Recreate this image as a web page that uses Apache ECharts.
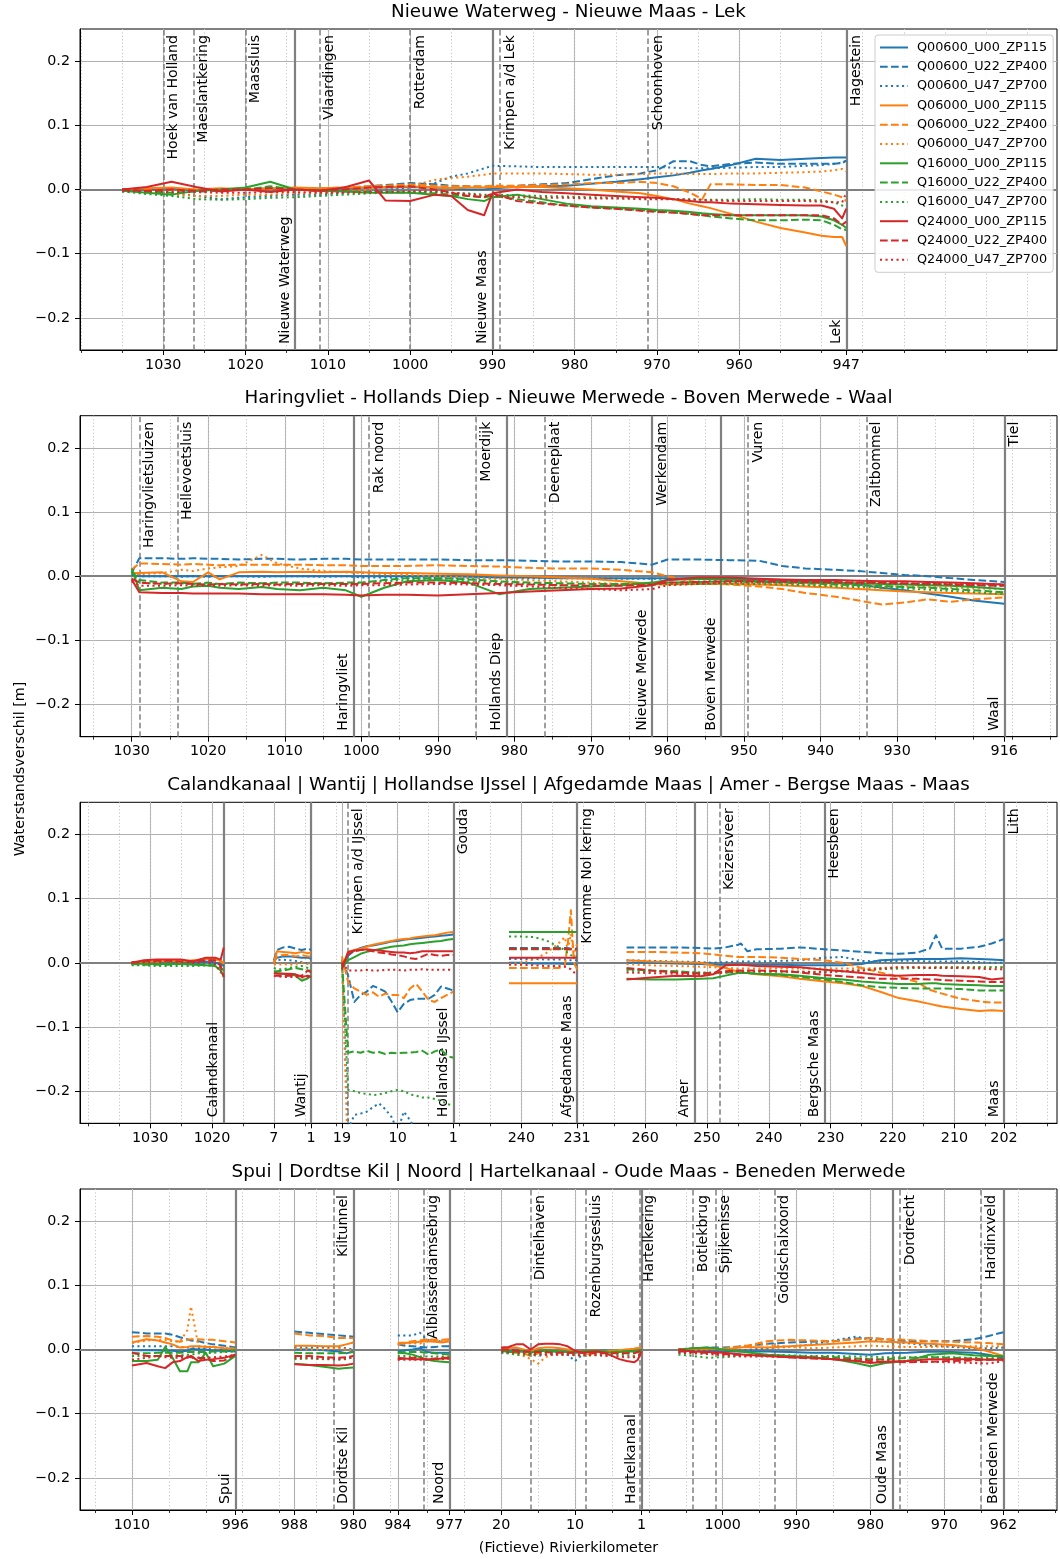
<!DOCTYPE html>
<html>
<head>
<meta charset="utf-8">
<title>Waterstandsverschil</title>
<script src="https://cdn.jsdelivr.net/npm/echarts@6.0.0/dist/echarts.min.js"></script>
<style>
html, body { margin: 0; padding: 0; background: #ffffff; }
#chart { width: 1060px; height: 1559px; }
</style>
</head>
<body>
<div id="chart"></div>
<script>
// ---------------- scenario names (legend order) ----------------
const SERIES = ['Q00600_U00_ZP115','Q00600_U22_ZP400','Q00600_U47_ZP700',
                'Q06000_U00_ZP115','Q06000_U22_ZP400','Q06000_U47_ZP700',
                'Q16000_U00_ZP115','Q16000_U22_ZP400','Q16000_U47_ZP700',
                'Q24000_U00_ZP115','Q24000_U22_ZP400','Q24000_U47_ZP700'];
const Y_TICKS = [-0.2, -0.1, 0, 0.1, 0.2];

// ================= Panel 1: Nieuwe Waterweg - Nieuwe Maas - Lek =================
const P1_KM = [1035,1032,1029,1026,1023,1020,1017,1014,1011,1008,1005,1003,1000,997,995,993,991,990,987,984,981,978,975,972,970,968,966,964.5,963.5,961,958,955,952,950,948.5,947.5,947];
const P1_VALUES = [
 [0,0,0.002,-0.002,0,0,0.002,0,0,0.002,0.003,0.003,0.004,0.003,0.002,0,0,0.002,0.004,0.005,0.006,0.009,0.012,0.016,0.019,0.022,0.026,0.03,0.032,0.038,0.048,0.046,0.048,0.049,0.05,0.05,0.05],
 [0,-0.002,0,-0.003,-0.002,0,-0.002,0,0,0.003,0.005,0.007,0.01,0.008,0.006,0.005,0.004,0.003,0.006,0.008,0.01,0.016,0.022,0.025,0.03,0.044,0.044,0.038,0.036,0.04,0.042,0.04,0.04,0.04,0.04,0.041,0.045],
 [-0.003,-0.005,-0.005,-0.01,-0.015,-0.012,-0.01,-0.008,-0.008,-0.005,-0.002,0,0.003,0.01,0.02,0.025,0.033,0.037,0.036,0.035,0.035,0.035,0.035,0.035,0.035,0.034,0.033,0.033,0.033,0.034,0.035,0.035,0.037,0.038,0.04,0.042,0.045],
 [0,0.002,0.003,0,0.002,0,0.002,0.003,0.002,0.003,0.003,0.004,0.005,0.003,0.002,0.003,0.003,0.004,0.004,0.004,0.002,0,-0.003,-0.006,-0.01,-0.015,-0.022,-0.026,-0.029,-0.038,-0.05,-0.06,-0.067,-0.072,-0.074,-0.074,-0.088],
 [0,0,0,-0.003,0,0.002,0,0.002,0.002,0.003,0.005,0.006,0.008,0.006,0.005,0.005,0.005,0.006,0.006,0.007,0.008,0.01,0.01,0.012,0.01,0.005,-0.005,-0.015,0.008,0.008,0.007,0.007,0.003,-0.003,-0.008,-0.012,-0.018],
 [-0.002,-0.005,-0.008,-0.01,-0.01,-0.008,-0.008,-0.006,-0.006,-0.003,0,0.002,0.005,0.015,0.018,0.02,0.023,0.025,0.025,0.025,0.024,0.023,0.023,0.024,0.025,0.025,0.024,0.024,0.024,0.025,0.025,0.026,0.027,0.028,0.03,0.032,0.028],
 [-0.002,-0.005,-0.008,-0.002,0,0.003,0.012,0,-0.002,-0.003,-0.005,-0.005,-0.005,-0.008,-0.01,-0.015,-0.018,-0.012,-0.008,-0.015,-0.022,-0.026,-0.028,-0.03,-0.032,-0.033,-0.035,-0.037,-0.038,-0.04,-0.04,-0.04,-0.04,-0.042,-0.048,-0.055,-0.06],
 [-0.002,-0.003,-0.005,-0.003,-0.002,0,0.005,0,-0.002,-0.003,-0.004,-0.004,-0.005,-0.006,-0.008,-0.01,-0.012,-0.01,-0.015,-0.02,-0.025,-0.028,-0.03,-0.032,-0.034,-0.036,-0.038,-0.04,-0.042,-0.045,-0.048,-0.048,-0.047,-0.048,-0.055,-0.062,-0.063],
 [-0.003,-0.007,-0.01,-0.015,-0.016,-0.015,-0.013,-0.012,-0.01,-0.008,-0.006,-0.005,-0.004,-0.004,-0.005,-0.006,-0.008,-0.008,-0.009,-0.01,-0.011,-0.012,-0.013,-0.013,-0.014,-0.015,-0.015,-0.016,-0.016,-0.016,-0.015,-0.016,-0.016,-0.017,-0.02,-0.025,-0.027],
 [0,0.004,0.012,0.004,-0.003,0,-0.004,0,-0.002,0.003,0.014,-0.017,-0.018,-0.008,-0.01,-0.032,-0.04,-0.006,0,-0.004,-0.006,-0.008,-0.01,-0.012,-0.013,-0.015,-0.018,-0.02,-0.02,-0.022,-0.023,-0.024,-0.025,-0.025,-0.03,-0.045,-0.03],
 [0,-0.002,0,-0.002,0,0,0.002,0,-0.002,0,0.003,0.004,0.005,0,-0.005,-0.01,-0.012,-0.006,-0.018,-0.022,-0.025,-0.028,-0.03,-0.033,-0.035,-0.036,-0.038,-0.04,-0.04,-0.04,-0.04,-0.04,-0.04,-0.04,-0.045,-0.055,-0.05],
 [-0.002,-0.003,-0.004,-0.004,-0.005,-0.005,-0.004,-0.004,-0.005,-0.005,-0.004,-0.004,-0.003,-0.003,-0.005,-0.007,-0.01,-0.01,-0.012,-0.013,-0.013,-0.014,-0.014,-0.015,-0.015,-0.015,-0.016,-0.016,-0.017,-0.018,-0.018,-0.018,-0.018,-0.019,-0.02,-0.02,-0.005]
];
const P1_TICKS = [[0,1030],[0,1020],[0,1010],[0,1000],[0,990],[0,980],[0,970],[0,960],[0,947]];
const P1_STATIONS = [['Hoek van Holland',0,1030,true],['Maeslantkering',0,1026.3,true],['Maassluis',0,1020,true],['Vlaardingen',0,1011,true],['Rotterdam',0,1000,true],['Krimpen a/d Lek',0,989.1,true],['Schoonhoven',0,971.1,true],['Hagestein',0,947,false]];
const P1_SECTIONS = [['Nieuwe Waterweg',0,1014],['Nieuwe Maas',0,990],['Lek',0,947]];

// ================= Panel 2: Haringvliet - Hollands Diep - ... - Waal =================
const P2_KM = [1030,1029,1026,1023.5,1022,1020,1018.5,1016,1013,1011,1008,1005,1002,1000,997,994,990,986,982,978,974,970,966,962,960,956,952,948,945,942,938,935,932,929,926,923,920,916];
const P2_VALUES = [
 [0.002,0,0,0,0,0,0,0,0,0,0,0,0,0,0,0,0,-0.001,-0.002,-0.002,-0.003,-0.003,-0.003,-0.003,-0.003,-0.003,-0.004,-0.005,-0.006,-0.008,-0.01,-0.013,-0.018,-0.022,-0.027,-0.032,-0.038,-0.043],
 [0.005,0.028,0.028,0.027,0.028,0.027,0.027,0.026,0.027,0.027,0.026,0.027,0.027,0.026,0.026,0.026,0.026,0.025,0.025,0.024,0.023,0.023,0.022,0.018,0.026,0.026,0.025,0.024,0.016,0.012,0.01,0.008,0.005,0.002,0,-0.003,-0.006,-0.009],
 [0.003,0,0,-0.001,0,-0.001,0,0,-0.001,0,0,-0.001,0,-0.002,-0.002,-0.002,-0.003,-0.003,-0.003,-0.003,-0.003,-0.003,-0.004,-0.004,-0.004,-0.005,-0.006,-0.007,-0.008,-0.008,-0.009,-0.01,-0.011,-0.011,-0.012,-0.013,-0.014,-0.015],
 [0.005,0.005,0.006,-0.008,-0.009,0.006,-0.005,0.006,0.007,0.006,0.007,0.006,0.007,0.006,0.005,0.005,0.004,0.003,0.001,0,-0.002,-0.004,-0.008,-0.012,-0.013,-0.012,-0.012,-0.013,-0.014,-0.016,-0.018,-0.02,-0.022,-0.024,-0.025,-0.026,-0.027,-0.028],
 [0.01,0.02,0.019,0.018,0.019,0.018,0.017,0.018,0.018,0.018,0.018,0.017,0.017,0.016,0.016,0.016,0.017,0.016,0.015,0.013,0.012,0.012,0.01,0.006,0,-0.01,-0.013,-0.016,-0.02,-0.026,-0.032,-0.038,-0.044,-0.041,-0.036,-0.04,-0.036,-0.033],
 [0.005,0.003,0.005,0.01,0.008,0.012,0.014,0.016,0.033,0.02,0.012,0.008,0.006,0.005,0.003,0.002,0,-0.002,-0.004,-0.006,-0.008,-0.01,-0.012,-0.012,-0.012,-0.012,-0.012,-0.013,-0.013,-0.014,-0.014,-0.015,-0.016,-0.016,-0.017,-0.018,-0.019,-0.02],
 [0.012,-0.022,-0.018,-0.02,-0.016,-0.015,-0.018,-0.02,-0.017,-0.02,-0.022,-0.018,-0.022,-0.032,-0.018,-0.008,-0.006,-0.01,-0.028,-0.02,-0.018,-0.016,-0.014,-0.01,-0.006,-0.004,-0.005,-0.008,-0.009,-0.01,-0.011,-0.011,-0.012,-0.013,-0.014,-0.015,-0.017,-0.02],
 [0.008,-0.006,-0.01,-0.01,-0.012,-0.01,-0.012,-0.01,-0.011,-0.01,-0.01,-0.011,-0.01,-0.01,-0.006,-0.003,-0.003,-0.005,-0.008,-0.01,-0.011,-0.012,-0.012,-0.011,-0.01,-0.009,-0.008,-0.009,-0.01,-0.011,-0.013,-0.014,-0.015,-0.017,-0.018,-0.02,-0.022,-0.025],
 [0.006,-0.01,-0.012,-0.011,-0.012,-0.013,-0.012,-0.012,-0.011,-0.012,-0.012,-0.011,-0.012,-0.01,-0.008,-0.006,-0.006,-0.008,-0.01,-0.012,-0.014,-0.015,-0.014,-0.013,-0.012,-0.012,-0.012,-0.012,-0.013,-0.014,-0.016,-0.017,-0.018,-0.019,-0.021,-0.023,-0.025,-0.028],
 [-0.005,-0.025,-0.026,-0.026,-0.027,-0.027,-0.027,-0.027,-0.028,-0.028,-0.028,-0.028,-0.029,-0.03,-0.029,-0.029,-0.03,-0.028,-0.026,-0.024,-0.022,-0.02,-0.019,-0.014,-0.006,-0.002,-0.002,-0.004,-0.005,-0.006,-0.006,-0.007,-0.008,-0.008,-0.009,-0.01,-0.011,-0.013],
 [-0.004,-0.01,-0.012,-0.011,-0.012,-0.013,-0.012,-0.013,-0.012,-0.013,-0.012,-0.012,-0.012,-0.012,-0.011,-0.01,-0.01,-0.011,-0.012,-0.013,-0.014,-0.015,-0.015,-0.013,-0.01,-0.009,-0.008,-0.008,-0.008,-0.009,-0.009,-0.01,-0.01,-0.011,-0.012,-0.013,-0.014,-0.015],
 [-0.008,-0.015,-0.015,-0.014,-0.015,-0.014,-0.015,-0.014,-0.015,-0.014,-0.015,-0.014,-0.015,-0.014,-0.014,-0.013,-0.012,-0.013,-0.014,-0.016,-0.018,-0.02,-0.022,-0.02,-0.014,-0.012,-0.01,-0.01,-0.01,-0.01,-0.01,-0.011,-0.011,-0.012,-0.012,-0.012,-0.013,-0.013]
];
const P2_TICKS = [[0,1030],[0,1020],[0,1010],[0,1000],[0,990],[0,980],[0,970],[0,960],[0,950],[0,940],[0,930],[0,916]];
const P2_STATIONS = [['Haringvlietsluizen',0,1029,true],['Hellevoetsluis',0,1024,true],['Rak noord',0,999,true],['Moerdijk',0,985,true],['Deeneplaat',0,976,true],['Werkendam',0,962,false],['Vuren',0,949.5,true],['Zaltbommel',0,934,true],['Tiel',0,916,false]];
const P2_SECTIONS = [['Haringvliet',0,1001],['Hollands Diep',0,981],['Nieuwe Merwede',0,962],['Boven Merwede',0,953],['Waal',0,916]];

// ================= Panel 3: Calandkanaal | Wantij | Hollandse IJssel | Afgedamde Maas | Amer - Bergse Maas - Maas =================
const P3_CALAND_KM = [1033,1031,1029,1027,1025,1023,1021,1019.5,1018.6,1018.1];
const P3_CALAND_VALUES = [
 [0,0,0.001,0.001,0,0,0.002,0,-0.002,-0.005],
 [0,0.002,0.002,0.001,0,0.002,0.003,0.002,0,-0.003],
 [-0.002,-0.002,-0.001,-0.002,-0.002,0,0,-0.002,-0.005,-0.008],
 [0,0.002,0.002,0.003,0.002,0.004,0.006,0.006,0.003,0],
 [0,0.001,0.002,0.003,0.002,0.003,0.006,0.005,0.002,-0.002],
 [-0.002,-0.003,-0.001,0,-0.001,0.002,0.004,0.003,0.002,0],
 [0,-0.002,-0.002,-0.002,-0.002,-0.003,-0.004,-0.005,-0.012,-0.022],
 [-0.002,-0.003,-0.003,-0.003,-0.002,-0.002,-0.003,-0.004,-0.008,-0.012],
 [-0.004,-0.004,-0.005,-0.005,-0.005,-0.005,-0.004,-0.005,-0.006,-0.008],
 [0,0.004,0.005,0.005,0.005,0.002,0.008,0.008,0.005,0.024],
 [0,0.002,0.003,0.003,0.002,0.002,0.004,0.004,-0.005,-0.022],
 [0,0.001,0.001,0.002,0.001,0,0.002,-0.002,-0.015,-0.01]
];
const P3_WANTIJ_KM = [7,6.5,5.5,4.5,3.5,2.5,1.5,1];
const P3_WANTIJ_VALUES = [
 [0.002,0.008,0.01,0.01,0.009,0.008,0.008,0.006],
 [0.004,0.02,0.024,0.025,0.022,0.02,0.022,0.02],
 [0,0.004,0.005,0.004,0.003,0.001,-0.001,-0.003],
 [0,0.018,0.017,0.016,0.015,0.017,0.015,0.016],
 [0,0.01,0.012,0.012,0.01,0.012,0.01,0.01],
 [-0.002,-0.003,-0.002,-0.003,-0.002,0,-0.002,-0.004],
 [-0.015,-0.016,-0.017,-0.018,-0.02,-0.028,-0.024,-0.02],
 [-0.013,-0.013,-0.012,-0.01,-0.008,-0.01,-0.012,-0.012],
 [-0.008,-0.01,-0.01,-0.008,-0.006,-0.005,-0.008,-0.01],
 [-0.016,-0.017,-0.017,-0.017,-0.018,-0.022,-0.02,-0.022],
 [-0.02,-0.02,-0.021,-0.02,-0.02,-0.02,-0.012,-0.015],
 [-0.02,-0.021,-0.022,-0.022,-0.022,-0.023,-0.022,-0.022]
];
const P3_IJSSEL_KM = [19,18,17,16,15,14,13,12,11,10,9,8,7,6,5,4,3,2,1];
const P3_IJSSEL_VALUES = [
 [-0.007,0.011,0.019,0.023,0.026,0.027,0.029,0.031,0.033,0.034,0.036,0.037,0.038,0.039,0.04,0.041,0.042,0.043,0.044],
 [0.005,-0.02,-0.061,-0.05,-0.045,-0.036,-0.04,-0.045,-0.06,-0.077,-0.064,-0.058,-0.056,-0.056,-0.056,-0.05,-0.037,-0.04,-0.043],
 [0.005,-0.26,-0.237,-0.235,-0.232,-0.225,-0.219,-0.228,-0.24,-0.262,-0.232,-0.245,-0.262,-0.26,-0.265,-0.26,-0.255,-0.262,-0.27],
 [-0.007,0.017,0.02,0.022,0.025,0.028,0.03,0.032,0.034,0.036,0.037,0.038,0.04,0.041,0.042,0.043,0.045,0.047,0.048],
 [0.01,-0.03,-0.04,-0.045,-0.05,-0.046,-0.053,-0.048,-0.05,-0.05,-0.055,-0.04,-0.033,-0.045,-0.058,-0.061,-0.055,-0.05,-0.045],
 [0.005,-0.32,-0.32,-0.32,-0.32,-0.32,-0.32,-0.32,-0.32,-0.32,-0.32,-0.32,-0.32,-0.32,-0.32,-0.32,-0.32,-0.32,-0.32],
 [-0.007,0.004,0.009,0.014,0.017,0.019,0.021,0.023,0.025,0.026,0.027,0.029,0.03,0.031,0.032,0.033,0.034,0.036,0.037],
 [0,-0.14,-0.138,-0.14,-0.137,-0.14,-0.139,-0.142,-0.14,-0.141,-0.14,-0.14,-0.139,-0.137,-0.143,-0.138,-0.135,-0.145,-0.148],
 [0,-0.198,-0.2,-0.203,-0.204,-0.206,-0.205,-0.203,-0.2,-0.198,-0.2,-0.205,-0.207,-0.21,-0.21,-0.212,-0.215,-0.22,-0.222],
 [-0.01,0.017,0.019,0.02,0.021,0.02,0.019,0.018,0.017,0.016,0.016,0.015,0.016,0.018,0.018,0.018,0.018,0.018,0.018],
 [-0.005,0.014,0.018,0.02,0.02,0.018,0.016,0.015,0.013,0.012,0.01,0.007,0.006,0.01,0.014,0.012,0.011,0.012,0.012],
 [0,-0.012,-0.012,-0.012,-0.011,-0.012,-0.012,-0.011,-0.011,-0.011,-0.012,-0.011,-0.011,-0.01,-0.011,-0.011,-0.011,-0.011,-0.011]
];
const P3_AFGEDAMD_KM = [242,240,238,236,234,233,232.5,232,231.5,231];
const P3_AFGEDAMD_VALUES = [
 [0,0,-0.001,-0.001,-0.001,-0.002,-0.002,-0.002,-0.002,-0.003],
 [0.023,0.023,0.023,0.023,0.023,0.023,0.023,0.022,0.022,0.022],
 [0.006,0.006,0.006,0.005,0.005,0.005,0.004,0.004,0.004,0.004],
 [-0.032,-0.032,-0.032,-0.032,-0.032,-0.032,-0.032,-0.032,-0.032,-0.032],
 [-0.008,-0.008,-0.008,-0.008,-0.008,-0.006,0.03,0.082,0,-0.01],
 [-0.002,0,0.005,0.015,0.03,0.04,0.02,0.045,0.01,0.03],
 [0.048,0.048,0.048,0.048,0.048,0.048,0.048,0.048,0.048,0.048],
 [0.021,0.021,0.021,0.021,0.021,0.021,0.021,0.021,0.021,0.021],
 [0.041,0.041,0.04,0.035,0.025,0.02,0.015,0.012,0.01,0.01],
 [0.008,0.008,0.008,0.008,0.008,0.008,0.008,0.008,0.008,0.008],
 [0.022,0.022,0.022,0.022,0.022,0.022,0.021,0.021,0.021,0.021],
 [-0.003,-0.003,-0.004,-0.005,-0.005,-0.006,-0.008,-0.01,-0.015,-0.015]
];
const P3_MAAS_KM = [263,259,255,251,249,247,245,244.5,243.5,242,238,235,231,228,225,222,219,216,214,213,212,209,206,204,202];
const P3_MAAS_VALUES = [
 [0,0,-0.001,-0.002,-0.003,-0.003,-0.003,-0.003,-0.003,-0.003,-0.003,-0.004,-0.004,-0.004,-0.002,0.004,0.005,0.006,0.006,0.006,0.006,0.007,0.006,0.005,0.004],
 [0.024,0.024,0.024,0.023,0.022,0.024,0.028,0.03,0.018,0.021,0.022,0.024,0.021,0.019,0.017,0.015,0.014,0.016,0.022,0.043,0.022,0.022,0.025,0.03,0.037],
 [0.004,0.003,0.002,0.001,0,0.001,0.002,0.002,0.002,0.002,0.003,0.004,0.008,0.009,0.003,0.002,0.003,0.003,0.002,0.002,0.002,0.002,0.001,0,0],
 [0.004,0.002,0.001,0,-0.004,-0.008,-0.014,-0.015,-0.016,-0.018,-0.021,-0.025,-0.029,-0.032,-0.036,-0.045,-0.055,-0.06,-0.064,-0.066,-0.068,-0.072,-0.075,-0.074,-0.075],
 [0.017,0.017,0.016,0.015,0.013,0.011,0.009,0.009,0.009,0.009,0.008,0.006,0.004,0,-0.008,-0.015,-0.022,-0.03,-0.042,-0.045,-0.048,-0.056,-0.06,-0.062,-0.062],
 [-0.002,-0.004,-0.005,-0.006,-0.007,-0.008,-0.009,-0.009,-0.009,-0.009,-0.009,-0.009,-0.009,-0.009,-0.009,-0.008,-0.007,-0.007,-0.007,-0.007,-0.007,-0.007,-0.007,-0.007,-0.007],
 [-0.025,-0.026,-0.026,-0.025,-0.024,-0.02,-0.016,-0.016,-0.016,-0.017,-0.018,-0.02,-0.024,-0.026,-0.029,-0.031,-0.033,-0.033,-0.032,-0.032,-0.033,-0.034,-0.035,-0.036,-0.036],
 [-0.01,-0.012,-0.013,-0.016,-0.016,-0.015,-0.015,-0.015,-0.016,-0.017,-0.019,-0.022,-0.026,-0.03,-0.035,-0.038,-0.039,-0.04,-0.04,-0.04,-0.04,-0.041,-0.043,-0.043,-0.043],
 [-0.012,-0.013,-0.014,-0.015,-0.015,-0.014,-0.014,-0.014,-0.014,-0.014,-0.014,-0.014,-0.014,-0.013,-0.012,-0.01,-0.009,-0.008,-0.008,-0.007,-0.007,-0.007,-0.007,-0.007,-0.007],
 [-0.026,-0.023,-0.02,-0.021,-0.018,-0.004,-0.003,-0.003,-0.004,-0.005,-0.006,-0.007,-0.011,-0.013,-0.016,-0.019,-0.02,-0.019,-0.019,-0.019,-0.02,-0.021,-0.022,-0.026,-0.024],
 [-0.008,-0.012,-0.015,-0.017,-0.016,-0.013,-0.012,-0.012,-0.012,-0.012,-0.013,-0.015,-0.019,-0.021,-0.023,-0.025,-0.025,-0.025,-0.026,-0.026,-0.027,-0.028,-0.029,-0.03,-0.03],
 [-0.015,-0.016,-0.017,-0.019,-0.017,-0.015,-0.014,-0.014,-0.013,-0.013,-0.013,-0.014,-0.015,-0.013,-0.012,-0.009,-0.007,-0.007,-0.008,-0.008,-0.008,-0.008,-0.009,-0.01,-0.01]
];
const P3_TICKS = [[0,1030],[0,1020],[1,7],[1,1],[2,19],[2,10],[2,1],[3,240],[3,231],[4,260],[4,250],[4,240],[4,230],[4,220],[4,210],[4,202]];
const P3_STATIONS = [['Krimpen a/d IJssel',2,18,true],['Gouda',2,1,false],['Kromme Nol kering',3,231,false],['Keizersveer',4,248,true],['Heesbeen',4,231,false],['Lith',4,202,false]];
const P3_SECTIONS = [['Calandkanaal',0,1018.1],['Wantij',1,1],['Hollandse IJssel',2,1],['Afgedamde Maas',3,231],['Amer',4,252],['Bergsche Maas',4,231],['Maas',4,202]];

// ================= Panel 4: Spui | Dordtse Kil | Noord | Hartelkanaal - Oude Maas - Beneden Merwede =================
const P4_SPUI_KM = [1010,1008,1006.5,1005.5,1004.5,1003.5,1002.5,1002,1001,1000,999,997.5,996];
const P4_SPUI_VALUES = [
 [-0.001,-0.001,-0.001,-0.002,-0.002,-0.003,-0.002,0.001,0,0,-0.002,-0.002,-0.003],
 [0.027,0.025,0.025,0.025,0.023,0.019,0.016,0.014,0.013,0.01,0.008,0.006,0.003],
 [0.005,0.005,0.005,0.005,0.005,0.004,0.003,0.002,0.002,0.001,0,-0.001,-0.001],
 [0.011,0.016,0.014,0.011,0.008,0.003,0.004,0.005,0.005,0.004,0.004,0.002,0.001],
 [0.02,0.021,0.02,0.018,0.014,0.012,0.015,0.016,0.016,0.015,0.015,0.013,0.011],
 [0.01,0.014,0.015,0.015,0.013,0.012,0.03,0.067,0.005,0.005,0.004,0.003,0.002],
 [-0.018,-0.018,-0.016,0.004,-0.013,-0.034,-0.034,-0.02,-0.02,-0.005,-0.026,-0.022,-0.01],
 [-0.006,-0.006,-0.005,-0.005,-0.005,-0.005,-0.004,-0.004,-0.004,-0.004,-0.003,-0.003,-0.001],
 [-0.01,-0.01,-0.01,-0.01,-0.009,-0.009,-0.008,-0.008,-0.006,-0.006,-0.005,-0.004,-0.003],
 [-0.025,-0.021,-0.026,-0.029,-0.02,-0.018,-0.012,-0.01,-0.018,-0.016,-0.015,-0.013,-0.008],
 [-0.005,-0.01,-0.01,-0.01,-0.01,-0.01,-0.011,-0.012,-0.013,-0.014,-0.018,-0.017,-0.008],
 [-0.016,-0.013,-0.01,-0.012,-0.013,-0.013,-0.013,-0.013,-0.013,-0.013,-0.012,-0.011,-0.008]
];
const P4_DORDTSEKIL_KM = [988,986,984,982,981,980];
const P4_DORDTSEKIL_VALUES = [
 [0,0,-0.001,-0.003,-0.006,-0.003],
 [0.028,0.026,0.024,0.022,0.021,0.02],
 [0.004,0.003,0.003,0.003,0.002,0],
 [0.006,0.006,0.005,0.005,0.008,0.011],
 [0.025,0.022,0.021,0.018,0.018,0.018],
 [0.002,0,0,0.002,0,-0.002],
 [-0.022,-0.024,-0.027,-0.03,-0.029,-0.028],
 [-0.005,-0.006,-0.006,-0.006,-0.005,-0.004],
 [-0.015,-0.014,-0.015,-0.016,-0.015,-0.012],
 [-0.023,-0.024,-0.024,-0.025,-0.024,-0.022],
 [-0.01,-0.01,-0.012,-0.013,-0.012,-0.01],
 [-0.013,-0.013,-0.014,-0.015,-0.014,-0.012]
];
const P4_NOORD_KM = [984,983,982,981,980,979,978,977];
const P4_NOORD_VALUES = [
 [-0.003,-0.001,0,0.002,-0.004,-0.005,-0.005,-0.005],
 [0.008,0.006,0.005,0.004,0.003,0.004,0.005,0.005],
 [0.022,0.022,0.022,0.026,0.015,0.013,0.013,0.011],
 [0.008,0.01,0.011,0.012,0.013,0.012,0.011,0.013],
 [0.01,0.011,0.013,0.014,0.016,0.015,0.015,0.016],
 [0.008,0.009,0.01,0.009,0.015,0.014,0.013,0.013],
 [-0.005,-0.006,-0.008,-0.012,-0.016,-0.018,-0.019,-0.02],
 [-0.005,-0.004,-0.004,-0.004,-0.005,-0.006,-0.007,-0.008],
 [-0.01,-0.01,-0.011,-0.011,-0.011,-0.011,-0.011,-0.011],
 [-0.013,-0.014,-0.015,-0.015,-0.015,-0.015,-0.014,-0.014],
 [-0.015,-0.014,-0.013,-0.013,-0.016,-0.014,-0.013,-0.013],
 [-0.016,-0.016,-0.016,-0.016,-0.016,-0.015,-0.015,-0.014]
];
const P4_HARTEL_KM = [20,19,18,17,16,15,14,13,12,11,10,9,8,7,6,5,4,3,2,1.5,1];
const P4_HARTEL_VALUES = [
 [0,-0.002,-0.003,-0.002,-0.004,-0.003,-0.002,-0.003,-0.004,-0.003,-0.005,-0.004,-0.003,-0.003,-0.004,-0.002,-0.003,-0.002,-0.002,-0.001,0],
 [0.002,0.001,0,-0.002,-0.004,-0.003,-0.002,-0.003,-0.003,-0.004,-0.005,-0.003,-0.003,-0.002,-0.002,-0.003,-0.002,-0.002,-0.001,0,0],
 [-0.005,-0.006,-0.005,-0.006,-0.008,-0.01,-0.008,-0.006,-0.006,-0.008,-0.018,-0.008,-0.005,-0.005,-0.006,-0.004,-0.004,-0.004,-0.003,-0.002,-0.001],
 [0.002,0.002,0.003,0,-0.003,0.002,0.003,0.003,0.002,0,-0.002,-0.003,-0.002,-0.002,-0.003,-0.002,-0.001,0,0.001,0.002,0.003],
 [0,-0.002,-0.005,-0.006,-0.01,-0.006,-0.003,-0.002,-0.003,-0.004,-0.003,-0.005,-0.008,-0.004,-0.004,-0.003,-0.002,0,0.001,0.002,0.003],
 [-0.003,-0.005,-0.008,-0.01,-0.015,-0.022,-0.012,-0.008,-0.005,-0.006,-0.008,-0.01,-0.007,-0.006,-0.005,-0.006,-0.005,-0.004,-0.003,-0.002,-0.001],
 [-0.002,-0.004,-0.004,-0.003,-0.005,-0.002,-0.001,-0.002,-0.003,-0.004,-0.004,-0.003,-0.002,-0.002,-0.004,-0.005,-0.004,-0.003,-0.003,-0.002,-0.002],
 [0,-0.002,-0.003,-0.002,-0.004,-0.003,-0.003,-0.004,-0.004,-0.005,-0.005,-0.004,-0.004,-0.003,-0.003,-0.004,-0.003,-0.003,-0.002,-0.002,-0.001],
 [-0.004,-0.006,-0.008,-0.008,-0.009,-0.008,-0.007,-0.007,-0.008,-0.008,-0.008,-0.009,-0.009,-0.008,-0.008,-0.008,-0.008,-0.009,-0.01,-0.008,-0.006],
 [0.003,0.004,0.008,0.008,0,0.008,0.009,0.009,0.008,0.005,-0.002,-0.005,-0.004,-0.003,-0.005,-0.01,-0.015,-0.018,-0.02,-0.016,-0.003],
 [0,0,-0.002,-0.003,-0.003,-0.004,-0.004,-0.005,-0.005,-0.005,-0.005,-0.005,-0.005,-0.006,-0.006,-0.006,-0.006,-0.006,-0.006,-0.004,-0.002],
 [-0.003,-0.004,-0.005,-0.006,-0.007,-0.007,-0.008,-0.008,-0.008,-0.008,-0.009,-0.009,-0.009,-0.009,-0.01,-0.01,-0.011,-0.012,-0.012,-0.01,-0.008]
];
const P4_OUDEMAAS_KM = [1006,1004,1002,1000,997,994,991,988,985,982,980,978,975,972,969,966,964,962];
const P4_OUDEMAAS_VALUES = [
 [-0.003,-0.002,-0.002,-0.003,-0.003,-0.003,-0.004,-0.005,-0.005,-0.007,-0.008,-0.006,-0.005,-0.003,-0.004,-0.005,-0.008,-0.013],
 [0,0.002,0.003,0.003,0.005,0.009,0.011,0.012,0.013,0.017,0.018,0.016,0.013,0.013,0.013,0.016,0.021,0.027],
 [-0.005,-0.004,-0.003,-0.003,-0.001,0.002,0.004,0.008,0.014,0.02,0.015,0.012,0.01,0.006,0.004,0.002,0.002,0.003],
 [0,0.001,0.002,0,0.004,0.003,0.005,0.007,0.009,0.011,0.013,0.012,0.011,0.009,0.007,0.003,-0.003,-0.01],
 [0,0.001,0.001,0.001,0.005,0.013,0.015,0.014,0.013,0.016,0.018,0.016,0.015,0.013,0.012,0.011,0.01,0.008],
 [-0.002,-0.001,0,0.002,0.006,0.008,0.004,0.002,0.003,0.005,0.006,0.005,0.004,0.004,0.005,0.005,0.005,0.005],
 [0,0.002,0.003,0,-0.004,-0.008,-0.01,-0.012,-0.015,-0.021,-0.026,-0.021,-0.018,-0.008,-0.006,-0.009,-0.01,-0.01],
 [-0.002,-0.004,-0.005,-0.006,-0.008,-0.009,-0.01,-0.011,-0.012,-0.014,-0.015,-0.015,-0.013,-0.012,-0.013,-0.014,-0.015,-0.015],
 [-0.008,-0.01,-0.013,-0.012,-0.01,-0.008,-0.009,-0.01,-0.01,-0.011,-0.011,-0.012,-0.012,-0.012,-0.012,-0.013,-0.013,-0.013],
 [0,-0.003,-0.004,-0.005,-0.008,-0.01,-0.012,-0.013,-0.015,-0.018,-0.021,-0.019,-0.018,-0.015,-0.015,-0.015,-0.016,-0.016],
 [-0.002,-0.004,-0.005,-0.007,-0.009,-0.01,-0.012,-0.014,-0.015,-0.017,-0.018,-0.019,-0.02,-0.019,-0.018,-0.017,-0.016,-0.015],
 [-0.005,-0.006,-0.007,-0.009,-0.011,-0.011,-0.012,-0.013,-0.015,-0.015,-0.015,-0.016,-0.018,-0.019,-0.02,-0.021,-0.022,-0.018]
];
const P4_TICKS = [[0,1010],[0,996],[1,988],[1,980],[2,984],[2,977],[3,20],[3,10],[3,1],[4,1000],[4,990],[4,980],[4,970],[4,962]];
const P4_STATIONS = [['Kiltunnel',1,982.7,true],['Alblasserdamsebrug',2,980.5,true],['Dintelhaven',3,16,true],['Rozenburgsesluis',3,8.5,true],['Hartelkering',3,1.3,true],['Botlekbrug',4,1004,true],['Spijkenisse',4,1001,true],['Goidschalxoord',4,993,true],['Dordrecht',4,976,true],['Hardinxveld',4,965,true]];
const P4_SECTIONS = [['Spui',0,996],['Dordtse Kil',1,980],['Noord',2,977],['Hartelkanaal',3,1],['Oude Maas',4,977],['Beneden Merwede',4,962]];

// ---------------- layout / style ----------------
const FONT = "'DejaVu Sans', 'Liberation Sans', sans-serif";
const COLORS = ['#1f77b4', '#ff7f0e', '#2ca02c', '#d62728'];
const DASHES = ['solid', [7.7, 3.3], [2.1, 3.4]];
const PLOT_LEFT = 80, PLOT_RIGHT = 3, PLOT_H = 321;

// fictive axis position = segment offset - river km (one unit per km)
const PANELS = [
  { title: 'Nieuwe Waterweg - Nieuwe Maas - Lek', top: 29, xmin: -0.12, xmax: 118.61,
    segs: [{ off: 1040, km: P1_KM, vals: P1_VALUES }],
    ticks: P1_TICKS, stations: P1_STATIONS, sections: P1_SECTIONS },
  { title: 'Haringvliet - Hollands Diep - Nieuwe Merwede - Boven Merwede - Waal', top: 415.7, xmin: 3.25, xmax: 130.89,
    segs: [{ off: 1040, km: P2_KM, vals: P2_VALUES }],
    ticks: P2_TICKS, stations: P2_STATIONS, sections: P2_SECTIONS },
  { title: 'Calandkanaal | Wantij | Hollandse IJssel | Afgedamde Maas | Amer - Bergse Maas - Maas', top: 802.3, xmin: -1.34, xmax: 156.57,
    segs: [{ off: 1040, km: P3_CALAND_KM, vals: P3_CALAND_VALUES },
           { off: 37, km: P3_WANTIJ_KM, vals: P3_WANTIJ_VALUES },
           { off: 60, km: P3_IJSSEL_KM, vals: P3_IJSSEL_VALUES },
           { off: 310, km: P3_AFGEDAMD_KM, vals: P3_AFGEDAMD_VALUES },
           { off: 350, km: P3_MAAS_KM, vals: P3_MAAS_VALUES }],
    ticks: P3_TICKS, stations: P3_STATIONS, sections: P3_SECTIONS },
  { title: 'Spui | Dordtse Kil | Noord | Hartelkanaal - Oude Maas - Beneden Merwede', top: 1189, xmin: -2.03, xmax: 130.26,
    segs: [{ off: 1015, km: P4_SPUI_KM, vals: P4_SPUI_VALUES },
           { off: 1015, km: P4_DORDTSEKIL_KM, vals: P4_DORDTSEKIL_VALUES },
           { off: 1025, km: P4_NOORD_KM, vals: P4_NOORD_VALUES },
           { off: 75, km: P4_HARTEL_KM, vals: P4_HARTEL_VALUES },
           { off: 1085, km: P4_OUDEMAAS_KM, vals: P4_OUDEMAAS_VALUES }],
    ticks: P4_TICKS, stations: P4_STATIONS, sections: P4_SECTIONS }
];

const keyOf = v => (Math.round(v * 1000) / 1000).toFixed(3);
const fmtY = v => (v < -1e-9 ? '\u2212' : '') + Math.abs(v).toFixed(1);

const grids = [], xAxes = [], yAxes = [], series = [], titles = [];
const textBase = { color: '#000', fontFamily: FONT };

PANELS.forEach((p, i) => {
  const G = (seg, km) => p.segs[seg].off - km;
  grids.push({ left: PLOT_LEFT, right: PLOT_RIGHT, top: p.top, height: PLOT_H, show: true,
               borderColor: '#000', borderWidth: 1, backgroundColor: 'transparent',
               containLabel: false, outerBoundsMode: 'none' });
  titles.push({ text: p.title, left: 568.5, top: p.top - 26, textAlign: 'center', padding: 0,
                textStyle: Object.assign({ fontSize: 18.3, fontWeight: 'normal' }, textBase) });

  const tickVals = p.ticks.map(([s, km]) => G(s, km));
  const labelMap = {};
  p.ticks.forEach(([s, km]) => { labelMap[keyOf(G(s, km))] = String(km); });
  const minor = [];
  for (let v = Math.ceil(p.xmin / 5) * 5; v <= p.xmax; v += 5) minor.push(v);

  xAxes.push({
    type: 'value', gridIndex: i, min: p.xmin, max: p.xmax, position: 'bottom',
    axisLine: { show: true, onZero: false, lineStyle: { color: '#000', width: 1 } },
    axisTick: { show: true, inside: false, length: 5, customValues: tickVals, lineStyle: { color: '#000', width: 1 } },
    axisLabel: Object.assign({ show: true, customValues: tickVals, margin: 8, fontSize: 14.3,
      formatter: v => (labelMap[keyOf(v)] !== undefined ? labelMap[keyOf(v)] : '') }, textBase),
    splitLine: { show: true, lineStyle: { color: '#b0b0b0', width: 1.1, type: 'solid' } },
    name: i === 3 ? '(Fictieve) Rivierkilometer' : '', nameLocation: 'middle', nameGap: 31,
    nameTextStyle: Object.assign({ fontSize: 14.3 }, textBase)
  });
  xAxes.push({
    type: 'value', gridIndex: i, min: p.xmin, max: p.xmax, position: 'bottom',
    axisLine: { show: false, onZero: false },
    axisTick: { show: true, inside: false, length: 3, customValues: minor, lineStyle: { color: '#000', width: 0.8 } },
    axisLabel: { show: false },
    splitLine: { show: true, lineStyle: { color: '#c4c4c4', width: 1, type: [1.2, 2.2] } }
  });
  yAxes.push({
    type: 'value', gridIndex: i, min: -0.25, max: 0.25, position: 'left',
    axisLine: { show: true, onZero: false, lineStyle: { color: '#000', width: 1 } },
    axisTick: { show: true, length: 5, customValues: Y_TICKS, lineStyle: { color: '#000', width: 1 } },
    axisLabel: Object.assign({ customValues: Y_TICKS, margin: 10, fontSize: 14.3, formatter: fmtY }, textBase),
    splitLine: { show: true, lineStyle: { color: '#b0b0b0', width: 1.1 } }
  });

  // data lines
  SERIES.forEach((name, s) => {
    const data = [];
    p.segs.forEach((seg, k) => {
      if (k > 0) data.push([seg.off - seg.km[0] - 0.5, null]);
      seg.km.forEach((km, j) => data.push([seg.off - km, seg.vals[s][j]]));
    });
    const color = COLORS[Math.floor(s / 3)];
    series.push({
      type: 'line', name, xAxisIndex: 2 * i, yAxisIndex: i, data,
      symbol: 'none', showSymbol: false, connectNulls: false, clip: true, z: 3, silent: true,
      lineStyle: { color, width: 2, type: DASHES[s % 3], cap: 'butt', join: 'round' },
      itemStyle: { color }, emphasis: { disabled: true }, animation: false
    });
  });

  // reference lines: y=0, section boundaries, stations
  const labelBase = Object.assign({ show: true, fontSize: 14.1, distance: [6, 3] }, textBase);
  const ml = [{ yAxis: 0, lineStyle: { color: '#808080', width: 2.2, type: 'solid' }, label: { show: false } }];
  p.sections.forEach(([name, s, km]) => ml.push({
    name, xAxis: G(s, km),
    lineStyle: { color: '#808080', width: 2.2, type: 'solid' },
    label: Object.assign({ position: 'insideStartTop', formatter: name }, labelBase)
  }));
  p.stations.forEach(([name, s, km, dashed]) => ml.push({
    name, xAxis: G(s, km),
    lineStyle: dashed ? { color: '#808080', width: 1.5, type: [5.5, 3] } : { color: 'rgba(0,0,0,0)', width: 0 },
    label: Object.assign({ position: 'insideEndBottom', formatter: name }, labelBase)
  }));
  series.push({
    type: 'line', name: '_ref' + i, xAxisIndex: 2 * i, yAxisIndex: i, data: [], z: 2, silent: true,
    markLine: { silent: true, symbol: ['none', 'none'], animation: false, z: 2, data: ml,
                emphasis: { disabled: true } }
  });
});

const chart = echarts.init(document.getElementById('chart'), null, { renderer: 'canvas' });
chart.setOption({
  animation: false,
  backgroundColor: '#ffffff',
  textStyle: { fontFamily: FONT },
  title: titles,
  grid: grids,
  xAxis: xAxes,
  yAxis: yAxes,
  legend: {
    data: SERIES, orient: 'vertical', left: 875, top: 35,
    itemWidth: 28, itemHeight: 14, itemGap: 4.3, padding: [5, 6, 5, 4],
    backgroundColor: 'rgba(255,255,255,0.85)', borderColor: '#cccccc', borderWidth: 1, borderRadius: 3,
    selectedMode: false, itemStyle: { opacity: 0 },
    textStyle: { fontSize: 12.8, fontFamily: FONT, color: '#000', padding: [0, 0, 0, 4], lineHeight: 15 }
  },
  graphic: [{
    type: 'text', x: 20, y: 769, rotation: Math.PI / 2, silent: true,
    style: { text: 'Waterstandsverschil [m]', fontSize: 14.3, fontFamily: FONT, fill: '#000',
             align: 'center', verticalAlign: 'middle' }
  }],
  series
});
</script>
</body>
</html>
